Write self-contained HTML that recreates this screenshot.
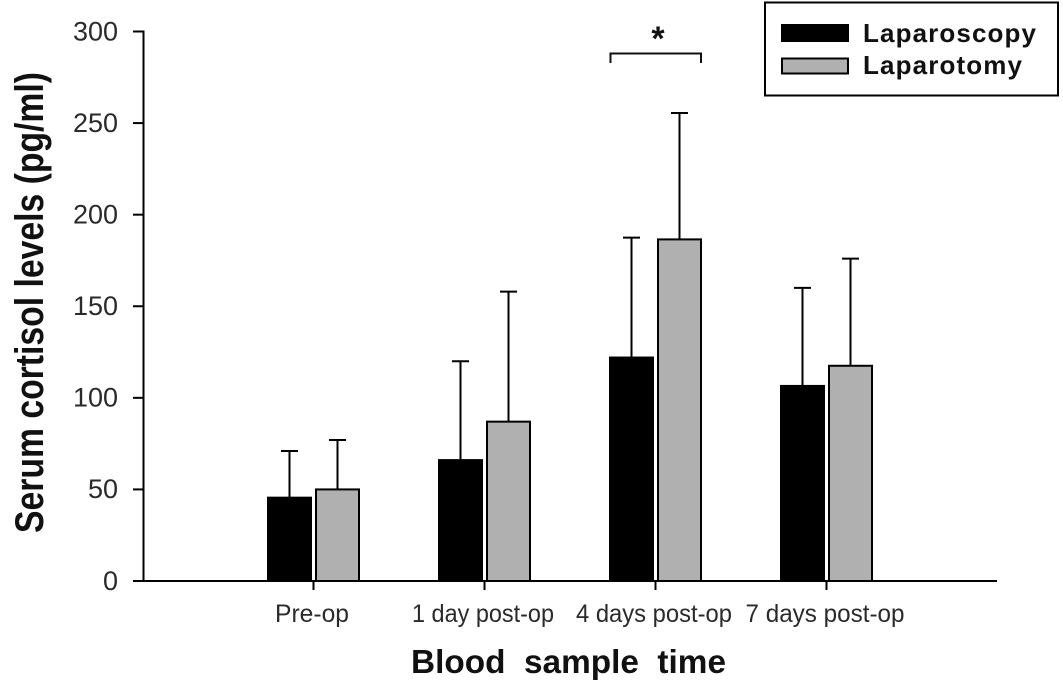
<!DOCTYPE html>
<html>
<head>
<meta charset="utf-8">
<title>Serum cortisol levels</title>
<style>
html,body{margin:0;padding:0;background:#fff;width:1063px;height:686px;overflow:hidden}
svg{display:block;font-family:"Liberation Sans",Arial,sans-serif}
text{white-space:pre}
</style>
</head>
<body>
<svg id="chart" width="1063" height="686" viewBox="0 0 1063 686" xmlns="http://www.w3.org/2000/svg">
  <g id="axes"></g>
  <g id="bars"></g>
  <text transform="translate(43,533) rotate(-90)" font-size="40" font-weight="bold" fill="#111" textLength="461" lengthAdjust="spacingAndGlyphs">Serum cortisol levels (pg/ml)</text>
  <text x="411" y="673" font-size="33" font-weight="bold" fill="#111" textLength="315" lengthAdjust="spacingAndGlyphs">Blood  sample  time</text>
  <g>
    <path d="M610.5 63V53.5H701V63" fill="none" stroke="#111" stroke-width="2"/>
    <text x="658" y="50" font-size="34" font-weight="bold" text-anchor="middle" fill="#111">*</text>
  </g>
  <g>
    <rect x="765" y="2.5" width="293" height="93" fill="#fff" stroke="#000" stroke-width="2"/>
    <rect x="781" y="24" width="68" height="18" fill="#000"/>
    <text x="863" y="42" font-size="26" font-weight="bold" fill="#111" textLength="173" lengthAdjust="spacing">Laparoscopy</text>
    <rect x="782" y="58.5" width="66" height="15" fill="#b0b0b0" stroke="#000" stroke-width="2"/>
    <text x="863" y="74" font-size="26" font-weight="bold" fill="#111" textLength="159" lengthAdjust="spacing">Laparotomy</text>
  </g>
</svg>
<script>
const categories = ['Pre-op', '1 day post-op', '4 days post-op', '7 days post-op'];
const categoryLabelWidths = [74, 142, 156, 159];
const laparoscopyMeans = [45.5, 66, 122, 106.5];
const laparoscopyErrorTops = [71, 120, 187.5, 160];
const laparotomyMeans = [50, 87, 186.5, 117.5];
const laparotomyErrorTops = [77, 158, 255.5, 176];
const yTicks = [0, 50, 100, 150, 200, 250, 300];

const NS = 'http://www.w3.org/2000/svg';
const axes = document.getElementById('axes');
const bars = document.getElementById('bars');
const y = v => 581 - v * (581 - 31.5) / 300;
const x = i => 313.5 + i * 171;
const BAR_W = 45;

function make(tag, attrs, parent) {
  const el = document.createElementNS(NS, tag);
  for (const k in attrs) el.setAttribute(k, attrs[k]);
  parent.appendChild(el);
  return el;
}

let el = make('line', {x1: 143.5, x2: 143.5, y1: 30.5, y2: 582, stroke: '#000', 'stroke-width': 2}, axes);


el = make('line', {x1: 143, x2: 997, y1: 581, y2: 581, stroke: '#000', 'stroke-width': 2}, axes);



yTicks.forEach(t => {
  const tick = make('line', {x1: 133, x2: 143, y1: y(t), y2: y(t), stroke: '#000', 'stroke-width': 2}, axes);
  
  
  const label = make('text', {x: 118, y: y(t) + 8.8, 'font-size': 27, 'text-anchor': 'end', fill: '#2a2a2a'}, axes);
  
  
  label.textContent = t;
});

function drawBar(left, mean, top, fill, name) {
  const group = make('g', {}, bars);
  
  
  const mid = left + BAR_W / 2;
  const stem = make('line', {x1: mid, x2: mid, y1: y(top), y2: y(mean), stroke: '#000', 'stroke-width': 2}, group);
  
  
  const cap = make('line', {x1: mid - 8.5, x2: mid + 8.5, y1: y(top), y2: y(top), stroke: '#000', 'stroke-width': 2}, group);
  
  
  const rect = make('rect', {x: left + 1, y: y(mean), width: BAR_W - 2, height: y(0) - y(mean), fill: fill, stroke: '#000', 'stroke-width': 2}, group);
  
  
}

categories.forEach((c, i) => {
  const cx = x(i);
  const tick = make('line', {x1: cx, x2: cx, y1: 581, y2: 590, stroke: '#000', 'stroke-width': 2}, axes);
  
  
  const label = make('text', {x: cx - categoryLabelWidths[i] / 2 - 1.5, y: 622, 'font-size': 25, fill: '#2a2a2a', textLength: categoryLabelWidths[i], lengthAdjust: 'spacingAndGlyphs'}, axes);
  
  
  label.textContent = c;
  drawBar(cx - 46.5, laparoscopyMeans[i], laparoscopyErrorTops[i], '#000', 'bar-laparoscopy');
  drawBar(cx + 1.5, laparotomyMeans[i], laparotomyErrorTops[i], '#b0b0b0', 'bar-laparotomy');
});
</script>
</body>
</html>
